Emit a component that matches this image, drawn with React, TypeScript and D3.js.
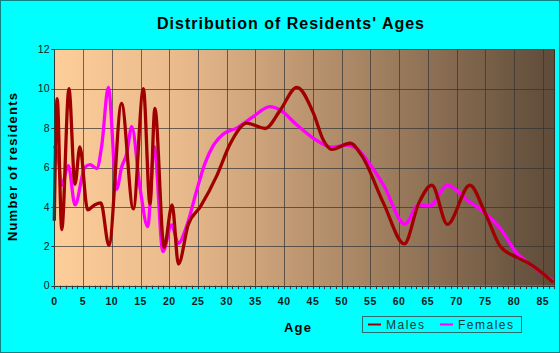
import React, { useEffect, useRef } from "react";
import * as d3 from "d3";

// Values (age position, number of residents)
const maleAges = [0, 0.5, 1.3, 2.55, 3.6, 4.45, 5.8, 7.0, 8.1, 9.5, 11.7, 13.75, 15.5, 16.65, 17.5, 19.1, 20.5, 21.6, 23.3, 25.4, 28.3, 30.6, 33.5, 36.7, 39.3, 42.2, 45.1, 46.8, 48.3, 51.5, 53.5, 57.3, 60.9, 63.4, 65.7, 68.4, 72.3, 75.0, 77.6, 80.5, 82.2, 86.8];
const maleCounts = [3.3, 9.5, 2.85, 10.0, 5.15, 7.05, 3.85, 4.1, 4.2, 2.05, 9.25, 3.9, 10.0, 4.15, 9.0, 1.95, 4.1, 1.1, 3.1, 4.0, 5.6, 7.2, 8.25, 7.98, 8.9, 10.07, 8.75, 7.4, 6.92, 7.23, 6.6, 4.18, 2.12, 4.18, 5.1, 3.12, 5.1, 3.67, 2.0, 1.44, 1.2, 0.18];

const femaleAges = [0, 0.6, 1.3, 2.45, 3.6, 5.3, 6.2, 7.4, 8.25, 9.4, 10.85, 11.7, 12.6, 13.47, 14.9, 16.25, 17.4, 18.9, 20.4, 21.6, 23.0, 24.8, 26.2, 27.7, 29.4, 31.7, 34.6, 37.5, 39.3, 42.2, 45.1, 48.3, 50.9, 52.6, 55.2, 57.3, 61.0, 63.4, 65.4, 68.4, 71.8, 75.0, 77.6, 80.5, 82.2, 86.8];
const femaleCounts = [7.1, 6.6, 5.1, 6.1, 4.1, 6.0, 6.15, 5.95, 7.1, 10.07, 4.9, 6.0, 6.7, 8.07, 5.0, 3.0, 7.06, 1.73, 3.08, 2.15, 3.0, 4.86, 6.2, 7.14, 7.7, 8.0, 8.58, 9.09, 8.92, 8.16, 7.48, 7.03, 7.14, 6.97, 6.05, 5.1, 3.13, 4.1, 4.06, 5.11, 4.35, 3.67, 2.9, 1.64, 1.22, 0.25];

const ageTicks = [0, 5, 10, 15, 20, 25, 30, 35, 40, 45, 50, 55, 60, 65, 70, 75, 80, 85];
const countTicks = [0, 2, 4, 6, 8, 10, 12];
const seriesNames = ["Males", "Females"];
const seriesColors = ["#a00000", "#ff00ff"];

const App = () => {
  const ref = useRef<SVGSVGElement>(null);

  useEffect(() => {
    renderChart();
  }, []);

  const renderChart = () => {
    const svg = d3.select(ref.current);
    svg.selectAll("*").remove();

    const W = 560;
    const H = 353;
    const left = 54.3;
    const right = 554.3;
    const top = 49.3;
    const bottom = 285.7;
    const font = "Arial, 'Liberation Sans', sans-serif";

    // Outer frame
    svg
      .append("rect")
      .attr("x", 0.5)
      .attr("y", 0.5)
      .attr("width", W - 1)
      .attr("height", H - 1)
      .attr("fill", "#00ffff")
      .attr("stroke", "#108080");

    // Scales
    const x = d3.scaleLinear().domain([0, 87]).range([left, right]);
    const y = d3.scaleLinear().domain([0, 12]).range([bottom, top]);

    // Plot background gradient
    const grad = svg
      .append("defs")
      .append("linearGradient")
      .attr("id", "bg")
      .attr("x1", "0%")
      .attr("x2", "100%")
      .attr("y1", "0%")
      .attr("y2", "0%");
    [
      [0, "#fdcd99"],
      [0.25, "#e9ba8c"],
      [0.6, "#aa8765"],
      [1, "#5e4b39"],
    ].forEach(([o, c]) => grad.append("stop").attr("offset", o as number).attr("stop-color", c as string));

    svg
      .append("rect")
      .attr("x", left)
      .attr("y", top)
      .attr("width", right - left)
      .attr("height", bottom - top)
      .attr("fill", "url(#bg)");

    // Grid lines
    const grid = svg.append("g").attr("stroke", "#333").attr("stroke-opacity", 0.7).attr("stroke-width", 1);
    grid
      .selectAll("line.v")
      .data(ageTicks.filter((d) => d > 0))
      .enter()
      .append("line")
      .attr("x1", (d) => Math.round(x(d)) + 0.5)
      .attr("x2", (d) => Math.round(x(d)) + 0.5)
      .attr("y1", top)
      .attr("y2", bottom);
    grid
      .selectAll("line.h")
      .data(countTicks.filter((d) => d > 0))
      .enter()
      .append("line")
      .attr("x1", left)
      .attr("x2", right)
      .attr("y1", (d) => Math.round(y(d)) + 0.5)
      .attr("y2", (d) => Math.round(y(d)) + 0.5);

    // Right border of plot
    svg
      .append("line")
      .attr("x1", Math.round(right) + 0.5)
      .attr("x2", Math.round(right) + 0.5)
      .attr("y1", top)
      .attr("y2", bottom)
      .attr("stroke", "#3a3028");

    // Lines
    const line = d3
      .line<[number, number]>()
      .x((d) => x(d[0]))
      .y((d) => y(d[1]))
      .curve(d3.curveMonotoneX);

    const males = maleAges.map((a, i) => [a, maleCounts[i]] as [number, number]);
    const females = femaleAges.map((a, i) => [a, femaleCounts[i]] as [number, number]);

    svg
      .append("path")
      .attr("d", line(females))
      .attr("fill", "none")
      .attr("stroke", seriesColors[1])
      .attr("stroke-width", 3.3)
      .attr("stroke-linejoin", "round");
    svg
      .append("path")
      .attr("d", line(males))
      .attr("fill", "none")
      .attr("stroke", seriesColors[0])
      .attr("stroke-width", 3.3)
      .attr("stroke-linejoin", "round");

    // Axes
    const axisColor = "#2a3c3c";
    svg
      .append("line")
      .attr("x1", Math.round(left) + 0.5)
      .attr("x2", Math.round(left) + 0.5)
      .attr("y1", top)
      .attr("y2", bottom)
      .attr("stroke", axisColor);
    svg
      .append("line")
      .attr("x1", left)
      .attr("x2", right)
      .attr("y1", Math.round(bottom) + 0.5)
      .attr("y2", Math.round(bottom) + 0.5)
      .attr("stroke", axisColor);

    // y ticks
    svg
      .selectAll("line.yt")
      .data(countTicks)
      .enter()
      .append("line")
      .attr("x1", left - 3)
      .attr("x2", left)
      .attr("y1", (d) => Math.round(y(d)) + 0.5)
      .attr("y2", (d) => Math.round(y(d)) + 0.5)
      .attr("stroke", axisColor);
    svg
      .selectAll("text.yl")
      .data(countTicks)
      .enter()
      .append("text")
      .attr("x", 49.5)
      .attr("y", (d) => y(d) + 3.6)
      .attr("text-anchor", "end")
      .attr("font-family", font)
      .attr("font-size", 10.5)
      .attr("fill", "#102020")
      .text((d) => d);

    // x minor ticks, one per year
    svg
      .selectAll("line.xt")
      .data(d3.range(0, 88))
      .enter()
      .append("line")
      .attr("x1", (d) => Math.round(x(d)) + 0.5)
      .attr("x2", (d) => Math.round(x(d)) + 0.5)
      .attr("y1", bottom)
      .attr("y2", bottom + 3.5)
      .attr("stroke", axisColor);
    svg
      .selectAll("text.xl")
      .data(ageTicks)
      .enter()
      .append("text")
      .attr("x", (d) => x(d))
      .attr("y", 305)
      .attr("text-anchor", "middle")
      .attr("font-family", font)
      .attr("font-size", 10.5)
      .attr("font-weight", "bold")
      .attr("letter-spacing", 0.5)
      .attr("fill", "#102020")
      .text((d) => d);

    // Title
    svg
      .append("text")
      .attr("x", 157)
      .attr("y", 29)
      .attr("font-family", font)
      .attr("font-size", 16)
      .attr("font-weight", "bold")
      .attr("letter-spacing", 1)
      .attr("fill", "#000")
      .text("Distribution of Residents' Ages");

    // Axis labels
    svg
      .append("text")
      .attr("transform", "translate(17,166.5) rotate(-90)")
      .attr("text-anchor", "middle")
      .attr("font-family", font)
      .attr("font-size", 13)
      .attr("font-weight", "bold")
      .attr("letter-spacing", 1.2)
      .attr("fill", "#000")
      .text("Number of residents");

    svg
      .append("text")
      .attr("x", 298)
      .attr("y", 332)
      .attr("text-anchor", "middle")
      .attr("font-family", font)
      .attr("font-size", 13)
      .attr("font-weight", "bold")
      .attr("letter-spacing", 1.2)
      .attr("fill", "#000")
      .text("Age");

    // Legend
    const legend = svg.append("g");
    legend
      .append("rect")
      .attr("x", 362.5)
      .attr("y", 316.5)
      .attr("width", 159)
      .attr("height", 16)
      .attr("fill", "none")
      .attr("stroke", "#2a6e6e");
    const legendX = [368, 440];
    seriesNames.forEach((name, i) => {
      legend
        .append("line")
        .attr("x1", legendX[i])
        .attr("x2", legendX[i] + 13)
        .attr("y1", 324.5)
        .attr("y2", 324.5)
        .attr("stroke", seriesColors[i])
        .attr("stroke-width", 2);
      legend
        .append("text")
        .attr("x", legendX[i] + 18)
        .attr("y", 329)
        .attr("font-family", font)
        .attr("font-size", 12)
        .attr("letter-spacing", 1.5)
        .attr("fill", "#183838")
        .text(name);
    });
  };

  return <svg ref={ref} width={560} height={353} style={{ position: "absolute", left: 0, top: 0 }} />;
};

export default App;
